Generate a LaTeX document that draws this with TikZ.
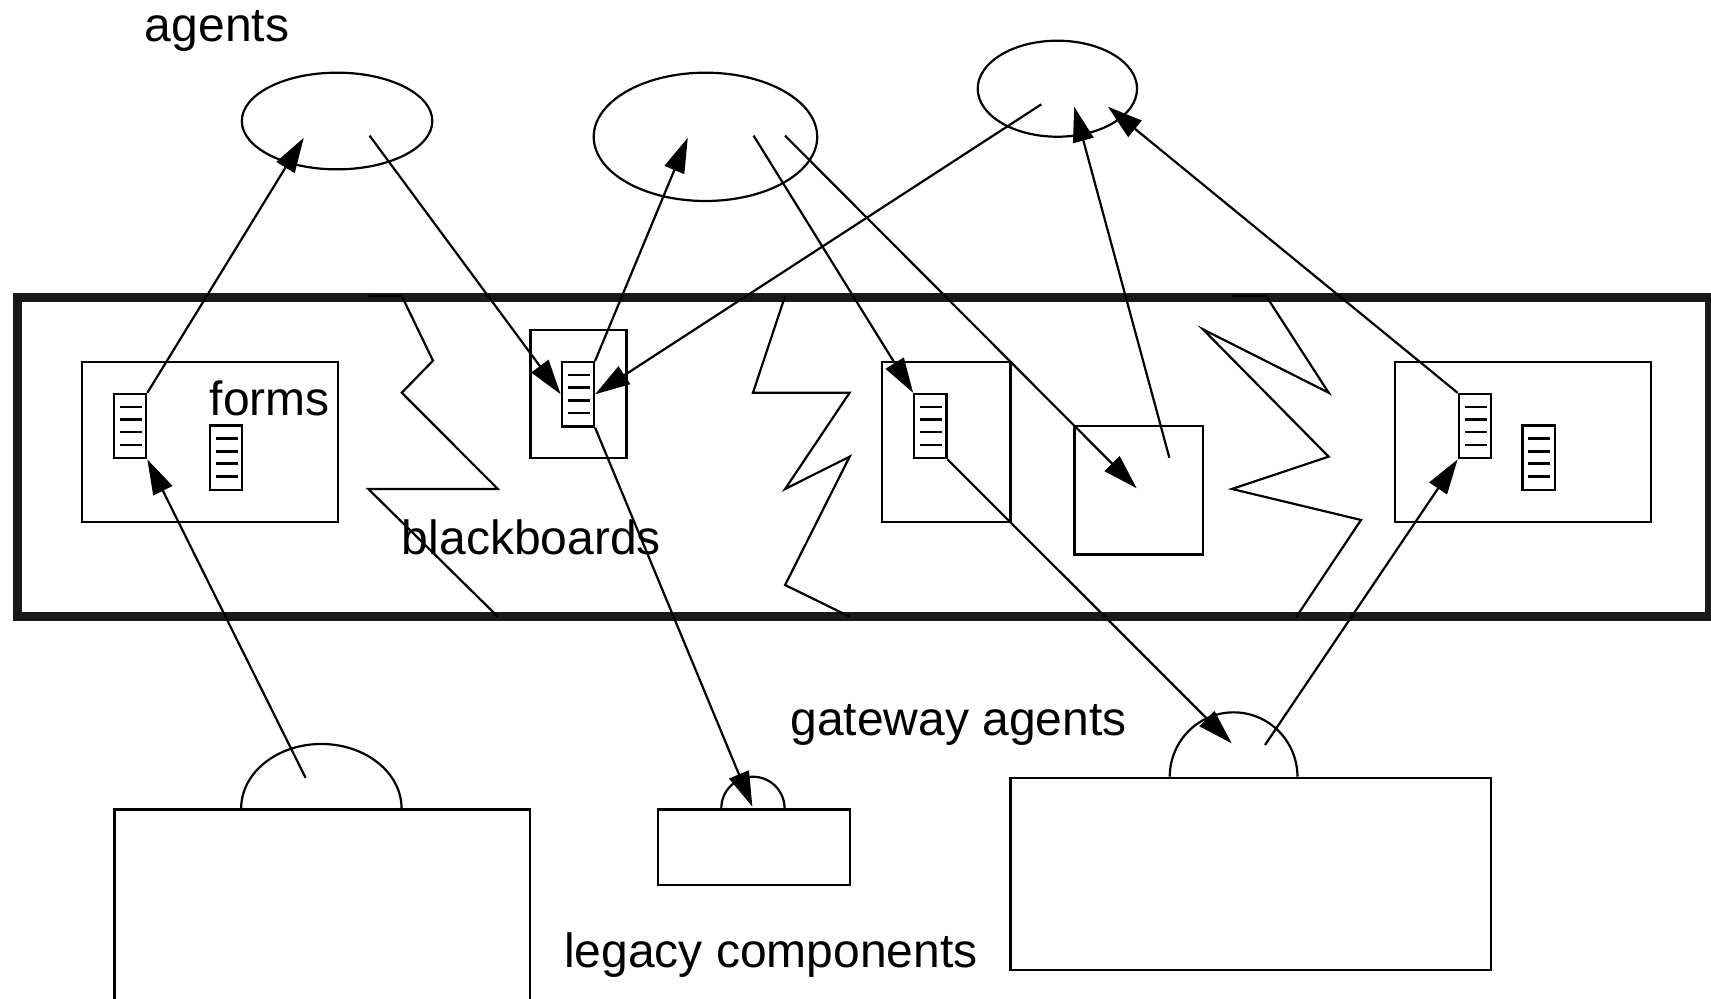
\documentclass[tikz,border=0pt]{standalone}
\usepackage{fontspec}
\setmainfont{Liberation Sans}
\usetikzlibrary{arrows.meta,shapes.geometric}
\newcommand\pxu{0.5456pt}
\begin{document}
\begin{tikzpicture}[x=0.5456pt, y=-0.5456pt,
  linkarrow/.style={-{Triangle[length=17.5pt,width=10.5pt]}, line width=1.1pt},
  plainbox/.style 2 args={draw, rectangle, line width=1.1pt, inner sep=0pt,
    minimum width=#1*\pxu, minimum height=#2*\pxu, anchor=north west},
  formsheet/.style={draw, rectangle, line width=1.1pt, inner sep=0pt,
    minimum width=29.5*\pxu, minimum height=59*\pxu, anchor=north west,
    path picture={
      \foreach \k in {12,23.5,35,46.7}
        \draw[line width=1.3pt]
          ([xshift=5.5*\pxu, yshift=-\k*\pxu]path picture bounding box.north west)
          -- ++(20,0);
    }},
  agentoval/.style 2 args={draw, ellipse, line width=1.1pt, inner sep=0pt,
    minimum width=#1*\pxu, minimum height=#2*\pxu},
  splitline/.style={line width=1.1pt, line join=miter},
  archline/.style={line width=1.1pt},
  labeltext/.style={inner sep=0pt, anchor=base west,
    font=\fontsize{24}{28}\selectfont}
]
\useasboundingbox (0,0) rectangle (1568,915);
\clip (0,0) rectangle (1568,915);

% blackboard frame
\draw[line width=4.75pt, black!90] (16,272.5) rectangle (1567,565.1);

% separators between the blackboards
\draw[splitline] (337.5,271.3) -- (368.2,271.3) -- (396.8,330.5) -- (368.2,359.9)
  -- (456.2,448.1) -- (337.5,448.1) -- (456.2,565.1);
\draw[splitline] (719.5,271.3) -- (690,359.9) -- (778.6,359.9) -- (719.5,448.1)
  -- (778.6,418.5) -- (719.5,536.1) -- (778.6,565.1);
\draw[splitline] (1129,271.3) -- (1160.3,271.3) -- (1217.6,359.9) -- (1102.4,301.8)
  -- (1217.6,418.5) -- (1129,448.1) -- (1247.2,476.5) -- (1188.1,565.1);

% blackboards
\node[plainbox={234.8}{146.7}] (bb1) at (74.1,330.5) {};
\node[plainbox={88}{117}] (bb2) at (485.2,301.5) {};
\node[plainbox={117.5}{146.7}] (bb3) at (807.6,330.5) {};
\node[plainbox={117.6}{117.9}] (bb4) at (983.6,389.2) {};
\node[plainbox={234.6}{146.7}] (bb5) at (1277.2,330.5) {};

% forms
\node[formsheet] (f1a) at (103.5,360) {};
\node[formsheet] (f1b) at (191.5,389) {};
\node[formsheet] (f2a) at (513.8,330.8) {};
\node[formsheet] (f3a) at (836.8,360) {};
\node[formsheet] (f5a) at (1335.8,360) {};
\node[formsheet] (f5b) at (1394.2,389) {};

% agents
\node[agentoval={174.6}{88.6}] (e1) at (308.9,110.9) {};
\node[agentoval={204.8}{117.6}] (e2) at (646.5,125.4) {};
\node[agentoval={146}{88}] (e3) at (969,81.3) {};

% legacy components with their gateway agents
\node[plainbox={381}{200}] (l1) at (104,740.8) {};
\node[plainbox={176}{69.3}] (l2) at (602,740.8) {};
\node[plainbox={440}{175.9}] (l3) at (925,711.8) {};
\draw[archline] (l1.north west) ++(117,0) arc[start angle=180, end angle=0, x radius=40.10pt, y radius=32.19pt];
\draw[archline] (l2.north west) ++(59,0) arc[start angle=180, end angle=0, x radius=15.82pt, y radius=15.82pt];
\draw[archline] (l3.north west) ++(147,0) arc[start angle=180, end angle=0, x radius=31.92pt, y radius=32.19pt];

% connector end points inside agents and boxes
\coordinate (a1in) at (278.4,126.2);
\coordinate (a1out) at (338.7,124.3);
\coordinate (a2in) at (630.3,126.2);
\coordinate (a2outa) at (690.6,124.3);
\coordinate (a2outb) at (719.4,124.3);
\coordinate (a3out) at (954.3,95.6);
\coordinate (a3ina) at (984.4,97.8);
\coordinate (a3inb) at (1015.3,97.8);
\coordinate (b4in) at (1041.7,447.5);
\coordinate (b4out) at (1071.6,419.4);
\coordinate (g1out) at (280,712.7);
\coordinate (g2in) at (689.5,739.3);
\coordinate (g3in) at (1128.7,681.2);
\coordinate (g3out) at (1159.3,682.7);

% connectors
\draw[linkarrow] (f1a.north east) -- (a1in);
\draw[linkarrow] (a1out) -- (f2a.west);
\draw[linkarrow] (f2a.north east) -- (a2in);
\draw[linkarrow] (a3out) -- (f2a.east);
\draw[linkarrow] (f2a.south east) -- (g2in);
\draw[linkarrow] (a2outa) -- (f3a.north west);
\draw[linkarrow] (a2outb) -- (b4in);
\draw[linkarrow] (b4out) -- (a3ina);
\draw[linkarrow] (f5a.north west) -- (a3inb);
\draw[linkarrow] (f3a.south east) -- (g3in);
\draw[linkarrow] (g3out) -- (f5a.south west);
\draw[linkarrow] (g1out) -- (f1a.south east);

% labels
\node[labeltext] (agentslbl) at (132.5,38) {agents};
\node[labeltext] (formslbl) at (192,381) {forms};
\node[labeltext] (boardslbl) at (368,508.5) {blackboards};
\node[labeltext] (gatewaylbl) at (724,674) {gateway agents};
\node[labeltext] (legacylbl) at (516.5,887) {legacy components};
\end{tikzpicture}
\end{document}
